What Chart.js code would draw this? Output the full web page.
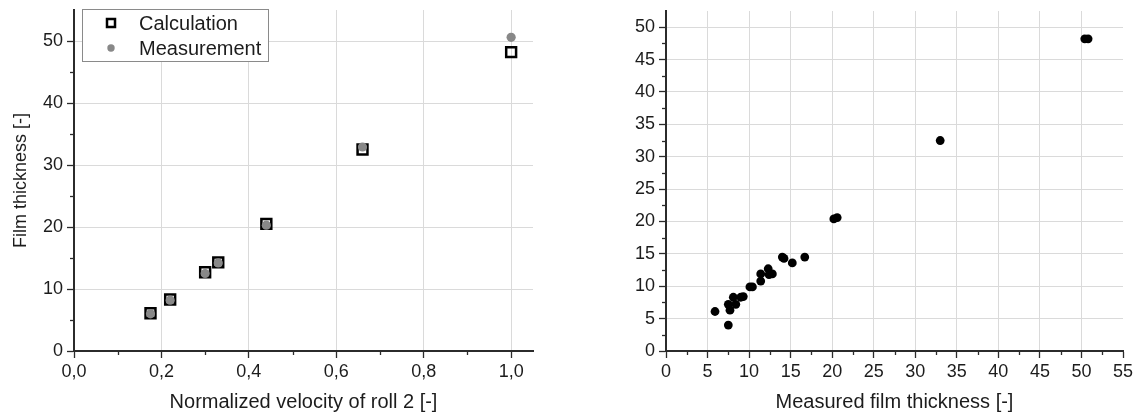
<!DOCTYPE html>
<html>
<head>
<meta charset="utf-8">
<script src="https://cdn.jsdelivr.net/npm/chart.js@4.4.1/dist/chart.umd.min.js"></script>
<style>
html,body{margin:0;padding:0;background:#fff;}
#wrap{position:relative;width:1140px;height:416px;overflow:hidden;background:#fff;}
#c1{position:absolute;left:0;top:0;}
#c2{position:absolute;left:600px;top:0;}
</style>
</head>
<body>
<div id="wrap">
<canvas id="c1" width="560" height="416"></canvas>
<canvas id="c2" width="540" height="416"></canvas>
</div>
<script>
// ---- Left chart data ----
const velocity = [0.175, 0.22, 0.30, 0.33, 0.44, 0.66, 1.0];
const calculation = [6.1, 8.3, 12.7, 14.3, 20.5, 32.5, 48.2];
const measurement = [6.0, 8.2, 12.5, 14.2, 20.3, 32.9, 50.6];
const leftXTicks = [0, 0.2, 0.4, 0.6, 0.8, 1.0];
const leftXTickLabels = ['0,0', '0,2', '0,4', '0,6', '0,8', '1,0'];
const leftXMinor = [0.1, 0.3, 0.5, 0.7, 0.9];
const leftYTicks = [0, 10, 20, 30, 40, 50];
const leftYMinor = [5, 15, 25, 35, 45];

// ---- Right chart data ----
const measuredThickness = [5.9, 7.5, 7.5, 7.7, 8.1, 8.4, 9.0, 9.3, 10.1, 10.4, 11.4, 11.4, 12.3, 12.4, 12.8, 14.0, 14.2, 15.2, 16.7, 20.2, 20.6, 33.0, 50.4, 50.8];
const calculatedThickness = [6.1, 4.0, 7.2, 6.3, 8.3, 7.2, 8.3, 8.4, 9.9, 9.9, 10.8, 11.9, 12.7, 11.8, 11.9, 14.5, 14.3, 13.6, 14.5, 20.4, 20.6, 32.5, 48.2, 48.2];
const rightXTicks = [0, 5, 10, 15, 20, 25, 30, 35, 40, 45, 50, 55];
const rightXMinor = [2.5, 7.5, 12.5, 17.5, 22.5, 27.5, 32.5, 37.5, 42.5, 47.5, 52.5];
const rightYTicks = [0, 5, 10, 15, 20, 25, 30, 35, 40, 45, 50];
const rightYMinor = [2.5, 7.5, 12.5, 17.5, 22.5, 27.5, 32.5, 37.5, 42.5, 47.5];

const FONT = '"Liberation Sans", Arial, sans-serif';
const TEXT = '#1c1c1c';
const AXIS = '#2b2b2b';
const GRID = '#dadada';

const minorTicksPlugin = {
  id: 'minorTicks',
  afterDraw(chart, args, o) {
    const ctx = chart.ctx, xs = chart.scales.x, ys = chart.scales.y;
    ctx.save();
    ctx.strokeStyle = AXIS;
    ctx.lineWidth = 1.3;
    (o.x || []).forEach(v => {
      const px = Math.round(xs.getPixelForValue(v)) + 0.5;
      ctx.beginPath(); ctx.moveTo(px, ys.bottom); ctx.lineTo(px, ys.bottom + 4); ctx.stroke();
    });
    (o.y || []).forEach(v => {
      const py = Math.round(ys.getPixelForValue(v)) + 0.5;
      ctx.beginPath(); ctx.moveTo(xs.left, py); ctx.lineTo(xs.left - 4, py); ctx.stroke();
    });
    ctx.restore();
  }
};

const boxLegendPlugin = {
  id: 'boxLegend',
  afterDraw(chart, args, o) {
    if (!o || !o.display) return;
    const ctx = chart.ctx, ca = chart.chartArea;
    const x = ca.left + o.dx, y = ca.top + o.dy;
    ctx.save();
    ctx.fillStyle = '#fff';
    ctx.fillRect(x, y, o.w, o.h);
    ctx.strokeStyle = '#8a8a8a';
    ctx.lineWidth = 1;
    ctx.strokeRect(x + 0.5, y + 0.5, o.w, o.h);
    ctx.font = '20px ' + FONT;
    ctx.textBaseline = 'middle';
    chart.data.datasets.forEach((ds, i) => {
      const cy = y + o.rowTop + i * o.rowH;
      const cx = x + o.markerX;
      if (ds.pointStyle === 'rect') {
        ctx.lineWidth = 2.5;
        ctx.strokeStyle = ds.borderColor;
        ctx.strokeRect(cx - 4, cy - 4, 8, 8);
      } else {
        ctx.beginPath();
        ctx.fillStyle = ds.backgroundColor;
        ctx.arc(cx, cy, 3.7, 0, Math.PI * 2);
        ctx.fill();
      }
      ctx.fillStyle = TEXT;
      ctx.fillText(ds.label, x + o.textX, cy + 1);
    });
    ctx.restore();
  }
};

function xScale(min, max, ticks, labels, axisHeight, title) {
  return {
    type: 'linear', min: min, max: max,
    afterBuildTicks: s => { s.ticks = ticks.map(v => ({ value: v })); },
    afterFit: s => { s.height = axisHeight; s.paddingLeft = 0; s.paddingRight = 0; },
    ticks: {
      autoSkip: false, maxRotation: 0, padding: 3,
      color: TEXT, font: { family: FONT, size: 18 },
      callback: (v, i) => labels ? labels[i] : String(v)
    },
    grid: {
      color: c => (c.tick && (c.tick.value === 0 || c.tick.value === max)) ? 'rgba(0,0,0,0)' : GRID,
      lineWidth: 1, tickColor: AXIS, tickLength: 7, tickWidth: 1.3
    },
    border: { color: AXIS, width: 2 },
    title: { display: true, text: title, color: TEXT, font: { family: FONT, size: 20 }, padding: { top: 0, bottom: 2 } }
  };
}

function yScale(min, max, ticks, axisWidth, title) {
  return {
    type: 'linear', min: min, max: max,
    afterBuildTicks: s => { s.ticks = ticks.map(v => ({ value: v })); },
    afterFit: s => { s.width = axisWidth; s.paddingTop = 0; s.paddingBottom = 0; },
    ticks: {
      autoSkip: false, padding: 4,
      color: TEXT, font: { family: FONT, size: 18 },
      callback: v => String(v)
    },
    grid: {
      color: c => (c.tick && c.tick.value === 0) ? 'rgba(0,0,0,0)' : GRID,
      lineWidth: 1, tickColor: AXIS, tickLength: 7, tickWidth: 1.3
    },
    border: { color: AXIS, width: 2 },
    title: title ? { display: true, text: title, color: TEXT, font: { family: FONT, size: 18 }, padding: { top: 10, bottom: 0 } } : { display: false }
  };
}

new Chart(document.getElementById('c1'), {
  type: 'scatter',
  data: {
    datasets: [
      {
        label: 'Calculation', order: 1,
        data: velocity.map((v, i) => ({ x: v, y: calculation[i] })),
        pointStyle: 'rect', pointRadius: 7, pointHoverRadius: 7,
        borderColor: '#000', borderWidth: 2.5, backgroundColor: 'rgba(0,0,0,0)'
      },
      {
        label: 'Measurement', order: 0,
        data: velocity.map((v, i) => ({ x: v, y: measurement[i] })),
        pointStyle: 'circle', pointRadius: 4.6, pointHoverRadius: 4.6,
        borderWidth: 0, borderColor: '#888888', backgroundColor: '#888888'
      }
    ]
  },
  options: {
    responsive: false, animation: false, devicePixelRatio: 1,
    layout: { padding: { left: 0, top: 10, right: 27, bottom: 0 } },
    scales: {
      x: xScale(0, 1.05, leftXTicks, leftXTickLabels, 65, 'Normalized velocity of roll 2 [-]'),
      y: yScale(0, 55, leftYTicks, 74, 'Film thickness [-]')
    },
    plugins: {
      legend: { display: false }, tooltip: { enabled: false },
      minorTicks: { x: leftXMinor, y: leftYMinor },
      boxLegend: { display: true, dx: 8, dy: -1, w: 186, h: 52, rowTop: 14, rowH: 25, markerX: 29, textX: 57 }
    }
  },
  plugins: [minorTicksPlugin, boxLegendPlugin]
});

new Chart(document.getElementById('c2'), {
  type: 'scatter',
  data: {
    datasets: [
      {
        label: 'Calculated vs. measured film thickness',
        data: measuredThickness.map((v, i) => ({ x: v, y: calculatedThickness[i] })),
        pointStyle: 'circle', pointRadius: 4.4, pointHoverRadius: 4.4,
        borderWidth: 0, borderColor: '#000', backgroundColor: '#000'
      }
    ]
  },
  options: {
    responsive: false, animation: false, devicePixelRatio: 1,
    layout: { padding: { left: 0, top: 11, right: 17, bottom: 0 } },
    scales: {
      x: xScale(0, 55, rightXTicks, null, 65, 'Measured film thickness [-]'),
      y: yScale(0, 52.5, rightYTicks, 66, null)
    },
    plugins: {
      legend: { display: false }, tooltip: { enabled: false },
      minorTicks: { x: rightXMinor, y: rightYMinor },
      boxLegend: { display: false }
    }
  },
  plugins: [minorTicksPlugin, boxLegendPlugin]
});
</script>
</body>
</html>
